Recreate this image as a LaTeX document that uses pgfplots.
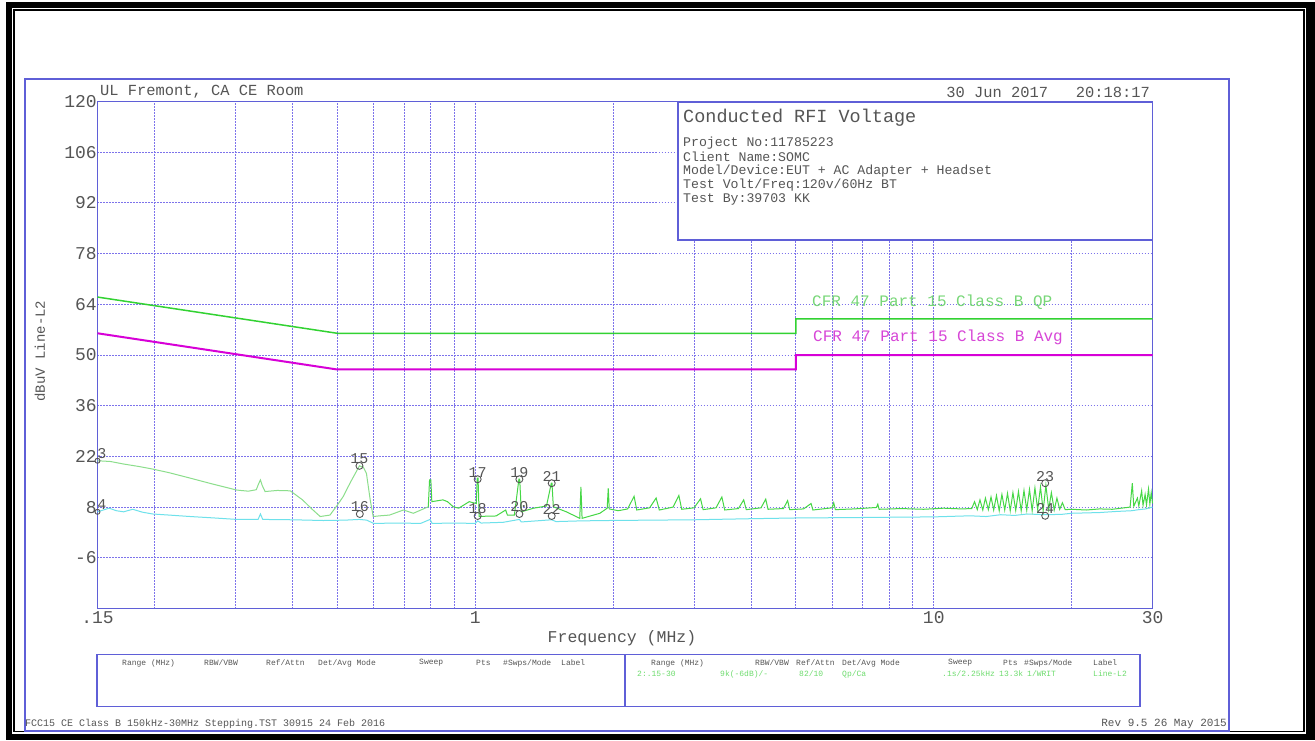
\documentclass[border=0pt]{standalone}
\usepackage{fontspec}
\setmainfont{Liberation Mono}
\usepackage{pgfplots}
\pgfplotsset{compat=1.18}
\definecolor{frameblue}{RGB}{95,95,215}
\definecolor{gridblue}{RGB}{125,115,235}
\definecolor{txtgray}{RGB}{85,85,85}
\definecolor{qpgreen}{RGB}{50,210,50}
\definecolor{avgmag}{RGB}{215,0,215}
\definecolor{trpale}{RGB}{140,222,140}
\definecolor{trgreen}{RGB}{70,215,70}
\definecolor{trcyan}{RGB}{110,225,235}
\definecolor{qptxt}{RGB}{120,215,120}
\definecolor{avgtxt}{RGB}{215,70,215}
\definecolor{tabgreen}{RGB}{110,220,110}
\newcommand{\fs}[1]{\fontsize{#1}{#1}\selectfont}

\begin{document}
\begin{tikzpicture}
\begin{scope}[x=1pt,y=-1pt]
\useasboundingbox (0,0) rectangle (1315,740);
\fill[white] (0,0) rectangle (1315,740);
\fill[black] (6,2) rectangle (1315,740);
\fill[white] (12,7.5) rectangle (1306,734);
\draw[black,line width=1.8pt] (14,10.3) rectangle (1304,731.5);
\draw[frameblue,line width=1.2pt] (25,79) rectangle (1229,731);
\end{scope}

\begin{axis}[at={(97.5pt,-608.5pt)}, anchor=south west, scale only axis,
  width=1055pt, height=507pt,
  xmode=log, xmin=0.15, xmax=30, ymin=-20, ymax=120,
  axis line style={frameblue, line width=1.2pt},
  grid=both,
  major grid style={gridblue, dash pattern=on 1.2pt off 1.8pt, line width=0.9pt},
  minor grid style={gridblue, dash pattern=on 1.2pt off 1.8pt, line width=0.9pt},
  major tick length=0pt, minor tick length=0pt,
  xtick={0.15,1,10,30}, xticklabels={.15,1,10,30},
  minor xtick={0.2,0.3,0.4,0.5,0.6,0.7,0.8,0.9,2,3,4,5,6,7,8,9,20},
  ytick={-6,8,22,36,50,64,78,92,106,120},
  yticklabels={-6,8,22,36,50,64,78,92,106,120},
  ticklabel style={font=\fs{18}, text=txtgray},
  yticklabel style={inner sep=0pt, xshift=-0.5pt},
  xticklabel style={inner sep=0pt, yshift=-3pt},
  clip=false,
]
% limit lines
\addplot[qpgreen, line width=1.5pt] coordinates {(0.15,66) (0.5,56) (5,56) (5,60) (30,60)};
\addplot[avgmag, line width=2pt] coordinates {(0.15,56) (0.5,46) (5,46) (5,50) (30,50)};
% average trace (cyan)
\addplot[trcyan, line width=1pt] coordinates {
(0.150,6.7) (0.159,7.7) (0.165,7.0) (0.171,6.7) (0.179,7.4) (0.188,6.6) (0.198,6.1)
(0.215,5.8) (0.239,5.4) (0.27,5.0) (0.302,4.6) (0.336,4.6) (0.340,6.1) (0.344,4.6)
(0.40,4.5) (0.466,4.3) (0.52,4.4) (0.559,4.6) (0.58,4.4) (0.60,3.5) (0.68,3.6)
(0.76,3.5) (0.797,4.6) (0.805,3.5) (0.9,3.6) (1.0,3.5) (1.012,4.2) (1.03,3.6)
(1.15,3.8) (1.248,4.6) (1.26,3.9) (1.468,4.5) (1.5,4.0) (1.7,4.2) (1.95,4.3)
(2.4,4.4) (3.0,4.5) (4.0,4.8) (5.0,5.0) (6.5,5.1) (8,5.2) (10,5.3) (12,5.6)
(13,5.4) (14,5.9) (15,5.7) (16,6.1) (17.5,5.9) (19,6.0) (20,6.3) (23,6.5)
(25,6.8) (27,7.0) (28,7.3) (29,7.5) (30,8.0)};
% peak trace, low band (pale green)
\addplot[trpale, line width=1pt] coordinates {
(0.150,20.8) (0.160,20.6) (0.171,19.9) (0.185,19.2) (0.198,18.5) (0.215,17.5)
(0.239,16.0) (0.265,14.5) (0.302,12.7) (0.320,12.4) (0.333,12.8) (0.337,14.5)
(0.340,15.5) (0.343,14.0) (0.348,12.3) (0.370,12.6) (0.395,12.5) (0.42,10.0)
(0.44,7.5) (0.459,5.4) (0.482,5.8) (0.50,8.5) (0.515,10.9) (0.535,15.0)
(0.559,19.4) (0.57,19.0) (0.579,17.3) (0.59,10.0) (0.599,5.4) (0.62,5.6)
(0.65,5.8) (0.697,7.2) (0.733,6.3) (0.79,8.1)};
% peak trace, upper band (green)
\addplot[trgreen, line width=1pt] coordinates {
(0.79,8.1) (0.795,15.5) (0.800,15.5) (0.804,9.5) (0.85,10.0) (0.87,9.5) (0.895,8.1)
(0.92,7.7) (0.97,9.5) (1.005,9.0) (1.010,16.0) (1.014,16.0) (1.02,5.4) (1.06,5.5)
(1.11,5.55) (1.165,7.2) (1.175,5.8) (1.217,5.8) (1.245,15.7) (1.250,15.7) (1.26,6.7)
(1.34,7.7) (1.43,8.3) (1.465,14.6) (1.470,14.6) (1.48,8.1) (1.58,6.7) (1.69,4.9)
(1.70,13.6) (1.71,4.9) (1.87,6.3) (1.94,7.7) (1.95,13.2) (1.96,7.5) (2.05,7.0)
(2.15,7.5) (2.22,11.0) (2.25,7.2) (2.40,7.8) (2.48,10.5) (2.52,7.2) (2.70,8.0)
(2.78,11.2) (2.82,7.4) (3.0,7.8) (3.1,10.3) (3.14,7.3) (3.35,7.8) (3.45,10.8)
(3.5,7.2) (3.75,7.6) (3.85,10.0) (3.9,7.3) (4.2,7.8) (4.3,10.2) (4.35,7.4)
(4.7,7.6) (4.8,9.8) (4.85,7.3) (5.2,7.5) (5.4,9.0) (5.45,7.2) (6.0,7.8) (6.05,9.2)
(6.1,7.3) (6.7,7.5) (7.5,7.9) (7.55,8.8) (7.6,7.4) (8.5,7.6) (9.5,7.4) (10.5,7.7)
(11.5,7.5) (12.1,7.6)
(12.27,9.5) (12.44,7.3) (12.61,10.0) (12.79,7.2) (12.96,10.5) (13.15,7.3)
(13.33,10.8) (13.51,7.2) (13.70,11.2) (13.89,7.0) (14.08,11.5) (14.28,7.2)
(14.48,11.8) (14.68,7.0) (14.88,12.0) (15.09,7.1) (15.30,12.3) (15.51,7.0)
(15.73,12.6) (15.95,7.2) (16.17,12.9) (16.39,7.0) (16.62,13.3) (16.85,7.3)
(17.09,13.6) (17.32,7.0) (17.56,14.0) (17.81,7.4) (18.05,12.0) (18.31,7.2)
(18.56,10.5) (18.82,7.4) (19.08,9.2) (19.35,7.3)
(20,7.4) (21.5,7.2) (23,7.5) (24.5,7.4) (26,7.8) (26.8,8.0) (27.1,14.6) (27.3,8.2)
(27.8,10.5) (28.0,8.3) (28.4,12.5) (28.6,8.5) (28.9,11.5) (29.1,8.6) (29.4,13.0)
(29.6,8.8) (29.8,12.0) (30,9.0)};
% markers
\addplot[only marks, mark=o, mark size=3.5pt, txtgray, mark options={line width=0.9pt},
  nodes near coords, point meta=explicit symbolic,
  nodes near coords style={font=\fs{15}, text=txtgray, anchor=south, inner sep=0.5pt, yshift=1pt}]
  table[x=f, y=v, meta=lab] {
f v lab
0.559 19.4 15
0.560 6.1 16
1.012 15.7 17
1.012 5.55 18
1.248 15.7 19
1.248 6.1 20
1.468 14.6 21
1.468 5.55 22
17.5 14.6 23
17.5 5.6 24
};
\addplot[only marks, mark=o, mark size=2.5pt, txtgray, mark options={line width=0.9pt},
  nodes near coords, point meta=explicit symbolic,
  nodes near coords style={font=\fs{15}, text=txtgray, anchor=south west, inner sep=0.5pt, xshift=-1pt, yshift=1pt}]
  table[x=f, y=v, meta=lab] {
f v lab
0.15 20.8 3
0.15 6.7 4
};
\end{axis}

\begin{scope}[x=1pt,y=-1pt, every node/.style={inner sep=0pt, text=txtgray}]
% header texts
\node[anchor=west, font=\fs{15.4}] at (100,92) {UL Fremont, CA CE Room};
\node[anchor=east, font=\fs{15.4}] at (1150,92) {30 Jun 2017~~~20:18:17};
% info box
\filldraw[fill=white, draw=frameblue, line width=1.2pt] (678,102.5) rectangle (1152.5,240);
\node[anchor=west, font=\fs{18.5}] at (683,118) {Conducted RFI Voltage};
\node[anchor=west, font=\fs{13.2}] at (683,143) {Project No:11785223};
\node[anchor=west, font=\fs{13.2}] at (683,157) {Client Name:SOMC};
\node[anchor=west, font=\fs{13.2}] at (683,171) {Model/Device:EUT + AC Adapter + Headset};
\node[anchor=west, font=\fs{13.2}] at (683,185) {Test Volt/Freq:120v/60Hz BT};
\node[anchor=west, font=\fs{13.2}] at (683,199) {Test By:39703 KK};
% limit labels
\node[anchor=west, font=\fs{16}, text=qptxt] at (812,302) {CFR 47 Part 15 Class B QP};
\node[anchor=west, font=\fs{16}, text=avgtxt] at (813,337) {CFR 47 Part 15 Class B Avg};
% axis labels
\node[rotate=90, font=\fs{14}] at (40,351) {dBuV Line-L2};
\node[font=\fs{16.5}] at (622,638) {Frequency (MHz)};
% bottom table
\draw[frameblue, line width=1.1pt] (97,654.5) rectangle (625,706.5);
\draw[frameblue, line width=1.1pt] (625,654.5) rectangle (1140,706.5);
\foreach \x/\t in {122/{Range (MHz)}, 204/{RBW/VBW}, 266/{Ref/Attn}, 318/{Det/Avg Mode}, 419/{Sweep}, 476/{Pts}, 503/{\#Swps/Mode}, 561/{Label},
                   651/{Range (MHz)}, 755/{RBW/VBW}, 796/{Ref/Attn}, 842/{Det/Avg Mode}, 948/{Sweep}, 1003/{Pts}, 1024/{\#Swps/Mode}, 1093/{Label}}
  \node[anchor=west, font=\fs{8}] at (\x,663) {\t};
\foreach \x/\t in {637/{2:.15-30}, 720/{9k(-6dB)/-}, 799/{82/10}, 842/{Qp/Ca}, 942/{.1s/2.25kHz}, 999/{13.3k}, 1027/{1/WRIT}, 1093/{Line-L2}}
  \node[anchor=west, font=\fs{8}, text=tabgreen] at (\x,674) {\t};
% footer
\node[anchor=west, font=\fs{10}] at (25,724) {FCC15 CE Class B 150kHz-30MHz Stepping.TST 30915 24 Feb 2016};
\node[anchor=east, font=\fs{11}] at (1227,724) {Rev 9.5 26 May 2015};
\end{scope}
\end{tikzpicture}
\end{document}
